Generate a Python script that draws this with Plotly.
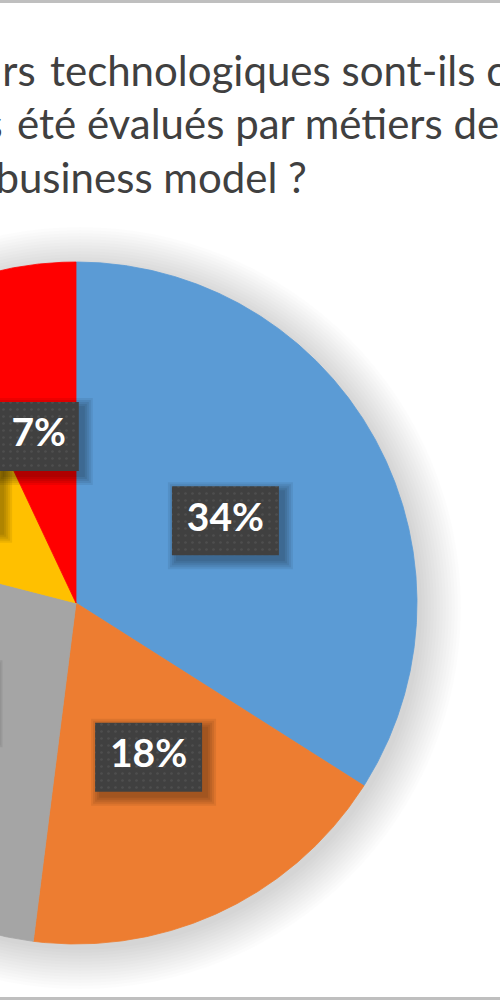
import numpy as np
import plotly.graph_objects as go

# ---- data ----
categories = ["Oui", "Partiellement", "Non", "En cours", "Ne sait pas"]
values = [34, 18, 27, 14, 7]
value_labels = ["34%", "18%", "27%", "14%", "7%"]
colors = ["#5B9BD5", "#ED7D31", "#A5A5A5", "#FFC000", "#FF0000"]

title_line1 = ["Les facteurs", "technologiques sont-ils considérés et"]
title_line2 = ["ont-ils", "été évalués par métiers de l'entreprise"]
title_line3 = "sur leur business model ?"

# ---- layout constants (pixels) ----
W, H = 504, 1000
CX, CY, R = 76, 603, 341
LABEL_POS = 0.5
FONT = "Lato"
TITLE_COLOR = "#404040"

fig = go.Figure()
shapes = []

# soft outer shadow of the pie
for k in range(14):
    rr = R + 40 - k * 3
    shapes.append(dict(type="circle", xref="x", yref="y", layer="below",
                       x0=CX + 4 - rr, x1=CX + 4 + rr, y0=CY + 5 - rr, y1=CY + 5 + rr,
                       fillcolor="rgba(0,0,0,0.011)", line=dict(width=0)))

total = float(sum(values))
acc = 0.0
mids = []
for cat, v, col in zip(categories, values, colors):
    a0 = acc / total * 360.0
    a1 = (acc + v) / total * 360.0
    n = max(int((a1 - a0) * 3), 4)
    th = np.radians(np.linspace(a0, a1, n))
    xs = np.concatenate([[CX], CX + R * np.sin(th), [CX]])
    ys = np.concatenate([[CY], CY - R * np.cos(th), [CY]])
    fig.add_trace(go.Scatter(x=xs, y=ys, mode="lines", fill="toself",
                             fillcolor=col, line=dict(color=col, width=0.8),
                             name=cat, hoverinfo="skip", showlegend=False))
    mids.append(np.radians((a0 + a1) / 2.0))
    acc += v

# label positions
lx = [CX + LABEL_POS * R * np.sin(m) for m in mids]
ly = [CY - LABEL_POS * R * np.cos(m) for m in mids]

def rect(x, y, hw, hh):
    return [x - hw, x + hw, x + hw, x - hw, x - hw], [y - hh, y - hh, y + hh, y + hh, y - hh]

for x, y, lab in zip(lx, ly, value_labels):
    hw = (26 + 27 * len(lab)) / 2.0
    hh = 34.5
    # blurred drop shadow
    for k in range(5):
        sx, sy = rect(x + 5, y + 5, hw + 1 + k * 2, hh + 1 + k * 2)
        fig.add_trace(go.Scatter(x=sx, y=sy, mode="lines", fill="toself",
                                 fillcolor="rgba(0,0,0,0.07)", line=dict(width=0),
                                 hoverinfo="skip", showlegend=False))
    bx, by = rect(x, y, hw, hh)
    fig.add_trace(go.Scatter(x=bx, y=by, mode="lines", fill="toself",
                             fillcolor="#404040",
                             fillpattern=dict(shape=".", bgcolor="#404040", fgcolor="#5c5c5c",
                                              size=7, solidity=0.12),
                             line=dict(width=0), hoverinfo="skip", showlegend=False))

fig.add_trace(go.Scatter(x=lx, y=ly, mode="text", text=value_labels,
                         textposition="middle center",
                         textfont=dict(family=FONT, size=39, color="white", weight="bold"),
                         hoverinfo="skip", showlegend=False))

# frame edges (top and bottom visible)
shapes.append(dict(type="rect", xref="paper", yref="paper", x0=0, x1=1, y0=1 - 3.0 / H, y1=1,
                   fillcolor="#bfbfbf", line=dict(width=0)))
shapes.append(dict(type="rect", xref="paper", yref="paper", x0=0, x1=1, y0=0, y1=3.0 / H,
                   fillcolor="#bfbfbf", line=dict(width=0)))

tfont = dict(family=FONT, size=42, color=TITLE_COLOR)
annotations = [
    dict(text=title_line1[0], x=38, y=70, xanchor="right", yanchor="middle"),
    dict(text=title_line1[1], x=48, y=70, xanchor="left", yanchor="middle"),
    dict(text=title_line2[0], x=5, y=123, xanchor="right", yanchor="middle"),
    dict(text=title_line2[1], x=15, y=123, xanchor="left", yanchor="middle"),
    dict(text=title_line3, x=309, y=177, xanchor="right", yanchor="middle"),
]
for a in annotations:
    a.update(xref="x", yref="y", showarrow=False, font=tfont)

fig.update_layout(
    width=W, height=H,
    margin=dict(l=0, r=0, t=0, b=0),
    paper_bgcolor="white", plot_bgcolor="white",
    xaxis=dict(range=[0, W], visible=False, fixedrange=True),
    yaxis=dict(range=[H, 0], visible=False, fixedrange=True),
    shapes=shapes,
    annotations=annotations,
    showlegend=False,
    hovermode=False,
)

fig.write_html(
    "out.html",
    config={"displayModeBar": False, "staticPlot": True},
    post_script=("document.body.style.margin='0px';"
                 "document.body.style.overflow='hidden';"
                 "document.documentElement.style.overflow='hidden';"),
)
